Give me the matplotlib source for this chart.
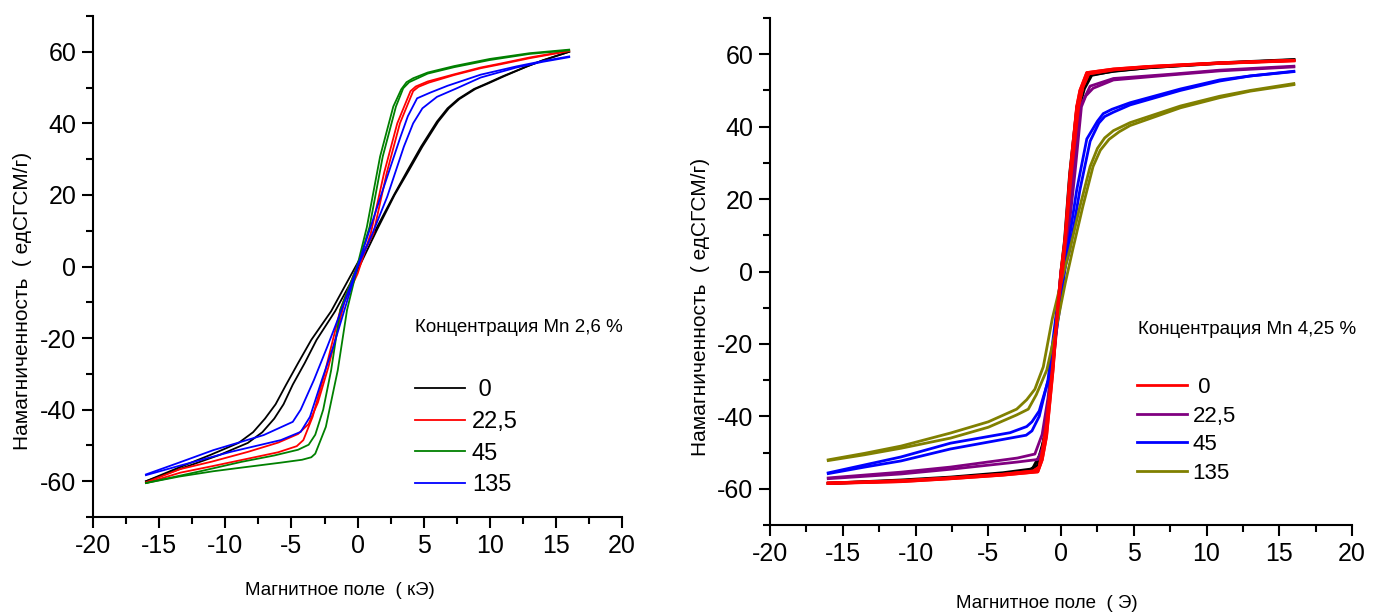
import numpy as np
import matplotlib.pyplot as plt
from matplotlib.ticker import MultipleLocator

plt.rcParams['font.family'] = ['Liberation Sans', 'DejaVu Sans']
plt.rcParams['axes.unicode_minus'] = False

# ---- left panel: Mn 2,6 %, field in kOe ----
labels_left = [' 0', '22,5', '45', '135']
colors_left = ['black', 'red', 'green', 'blue']

# each loop: descending branch (+16 -> -16) and ascending branch (-16 -> +16)
black_desc_x = [16, 14, 12.8, 11, 9.8, 8.8, 7.6, 6.8, 6.0, 4.8, 3.8, 2.75, 1.4, 0, -2, -3.5, -4.5, -5.4, -6.2, -7.0, -7.9, -9.0, -11.1, -13.4, -16]
black_desc_y = [60, 57.6, 55.9, 53.2, 51.2, 49.6, 46.8, 44.2, 40.5, 33.5, 27, 20, 10.5, 1, -12.5, -20.5, -27, -33, -38.5, -42.5, -46.3, -49.3, -52.6, -56, -60]
black_asc_x = [-16, -13, -10.4, -8.3, -7.2, -6.3, -5.6, -4.9, -4.0, -3.1, -1.7, 0, 1.5, 2.8, 3.9, 4.9, 6.1, 6.9, 7.7, 8.9, 9.9, 11.1, 12.8, 14, 16]
black_asc_y = [-60, -56, -52.6, -49.3, -46.3, -42.5, -38.5, -33, -27, -20.5, -12.5, -1, 10.5, 20, 27, 33.5, 40.5, 44.2, 46.8, 49.6, 51.2, 53.2, 55.9, 57.6, 60]

red_desc_x = [16, 13, 10.8, 9.3, 7.3, 5.3, 4.4, 4.0, 3.0, 2.0, 1.0, 0, -1.0, -2.2, -3.0, -3.7, -4.5, -6.0, -8.3, -11, -13.4, -16]
red_desc_y = [60.3, 58.4, 56.7, 55.6, 53.7, 51.7, 50.3, 49, 40, 26.1, 9.3, -2, -10, -28, -38, -44, -46.8, -49.2, -51.8, -54.5, -56.6, -60.3]
red_asc_x = [-16, -13.4, -11, -8.3, -6, -4.6, -4.1, -3.4, -2.5, -1.3, 0, 1.2, 2.2, 3.2, 4.2, 4.6, 5.4, 7.3, 9.3, 10.8, 13, 16]
red_asc_y = [-60.5, -57.6, -55.8, -53.7, -51.9, -50.2, -48.5, -42, -30, -12, 0.5, 9.3, 26.1, 40, 49, 50.2, 51.4, 53.5, 55.4, 56.5, 58.2, 60.2]

green_desc_x = [16, 13, 10, 7.3, 5.3, 4.2, 3.7, 3.3, 2.7, 1.7, 0.7, 0, -1.3, -2.0, -2.6, -3.2, -3.7, -4.5, -6.3, -8.8, -12, -16]
green_desc_y = [60.6, 59.6, 58, 56, 54.2, 52.6, 51.5, 49.5, 44.7, 30.7, 11, 0.5, -12, -29, -40, -47, -49.8, -51.2, -52.8, -54.6, -57.3, -60.5]
green_asc_x = [-16, -13.5, -10.9, -8.8, -5.8, -4.2, -3.5, -3.2, -2.4, -1.5, -0.8, 0, 0.9, 1.9, 2.9, 3.45, 3.9, 5.3, 7.3, 10, 13, 16]
green_asc_y = [-60.5, -58.7, -57.2, -56.2, -54.8, -54, -53.3, -52.3, -44.8, -29, -12.2, 0, 11, 30.7, 44.7, 49.8, 51.5, 53.9, 55.7, 57.7, 59.4, 60.4]

blue_desc_x = [16, 14, 12, 9.3, 6.8, 5.5, 4.5, 3.8, 3.25, 1.74, 0.8, 0, -1.2, -2.3, -3.3, -4.3, -4.9, -7.1, -10.9, -13.5, -16]
blue_desc_y = [58.7, 57.4, 55.9, 53.6, 50.5, 48.6, 47, 42, 36.3, 19.5, 9, 0, -12, -22.5, -31.7, -40, -43.4, -47.1, -51.3, -54.8, -58.1]
blue_asc_x = [-16, -13.4, -9.6, -5.8, -4.3, -3.6, -2.7, -1.8, -0.9, 0, 1.1, 2.24, 3.5, 4.2, 4.9, 6.0, 7.5, 9.3, 12, 14, 16]
blue_asc_y = [-58.3, -55.6, -51.8, -48.5, -46.2, -42, -31.7, -22, -11, 0, 9, 19.5, 33.5, 40, 44.2, 47.4, 49.8, 52.8, 55.6, 57.2, 58.5]

# ---- right panel: Mn 4,25 %, field in Oe ----
labels_right = [' 0', '22,5', '45', '135']
colors_right = ['red', 'purple', 'blue', 'olive']

k_desc_x = [16, 10.9, 6, 3.6, 2.0, 1.4, 1.1, 0.6, 0.25, 0, -0.6, -1.0, -1.35, -1.6, -2.1, -4, -7.6, -11, -16]
k_desc_y = [58.5, 57.6, 56.3, 55.3, 54.3, 50, 45.5, 27, 8.7, 0, -27, -42, -50, -53.5, -54.6, -55.6, -56.8, -57.6, -58.5]
k_asc_x = [-16, -11, -7.6, -4, -2.0, -1.5, -1.1, -0.6, -0.2, 0.1, 0.7, 1.25, 1.6, 2.1, 3.6, 6, 10.9, 16]
k_asc_y = [-58.5, -57.8, -57, -55.9, -54.8, -51, -45.5, -27, -8.7, 0, 27, 45.5, 50.5, 54.2, 55.4, 56.3, 57.5, 58.4]

r_desc_x = [16, 10.9, 6, 3.6, 1.77, 1.3, 1.08, 0.62, 0.27, 0, -0.6, -1.0, -1.3, -1.5, -1.9, -4, -7.6, -11, -16]
r_desc_y = [58.3, 57.6, 56.6, 55.9, 54.9, 50, 45.5, 27.1, 8.7, 0, -27, -42, -50, -54, -55.1, -56, -57, -57.8, -58.4]
r_asc_x = [-16, -11, -7.6, -4, -1.6, -1.3, -1.0, -0.55, -0.2, 0.1, 0.7, 1.2, 1.5, 1.9, 3.6, 6, 10.9, 16]
r_asc_y = [-58.5, -58, -57.2, -56.2, -55.3, -52, -45.5, -27, -8.7, 0, 27, 45.5, 51, 54.6, 55.7, 56.5, 57.5, 58.2]

p_desc_x = [16, 10.9, 7.6, 3.6, 2.0, 1.5, 1.3, 0.85, 0.35, 0, -0.5, -0.9, -1.3, -1.8, -3, -7.6, -11, -16]
p_desc_y = [56.7, 55.6, 54.5, 53.3, 51.2, 47, 45.5, 27, 8.7, 0, -20, -35, -45, -50.4, -51.5, -54, -55.4, -57]
p_asc_x = [-16, -11, -7.6, -3, -1.6, -1.2, -0.8, -0.4, 0.1, 0.45, 0.95, 1.4, 1.7, 2.2, 3.6, 7.6, 10.9, 16]
p_asc_y = [-57.2, -55.9, -54.6, -52.6, -51.9, -48, -35, -20, 0, 8.7, 27, 45.5, 48.5, 50.6, 52.9, 54.3, 55.4, 56.5]

b_desc_x = [16, 13, 10.9, 8.2, 4.74, 3.5, 2.9, 2.5, 1.77, 1.08, 0.39, -0.1, -0.8, -1.5, -2.0, -2.36, -3.5, -7.6, -11, -13.5, -16]
b_desc_y = [55.3, 54, 52.9, 50.4, 46.6, 44.8, 43.6, 41.5, 36.6, 22.6, 4.3, -10.6, -29, -38.5, -41.5, -42.8, -44.5, -47.4, -51.2, -53.4, -55.6]
b_asc_x = [-16, -13.5, -11, -7.6, -3.5, -2.4, -2.0, -1.5, -0.9, -0.3, 0.2, 0.6, 1.3, 2.0, 2.6, 3.0, 3.6, 4.74, 8.2, 10.9, 13, 16]
b_asc_y = [-55.8, -54, -52.3, -49, -46, -45.2, -44, -40, -30, -10.6, 0, 6, 22.6, 36, 41, 42.8, 44, 46, 50, 52.6, 54, 55.2]

o_desc_x = [16, 13, 10.9, 8.2, 4.74, 3.6, 3.0, 2.5, 2.0, 1.3, 0.6, 0, -0.6, -1.22, -1.8, -2.36, -3.05, -5, -7.6, -11, -13.5, -16]
o_desc_y = [51.9, 50, 48.4, 45.7, 41.1, 38.9, 36.9, 34, 29, 18, 6, -3, -13, -26.3, -32.5, -35.4, -38, -41.5, -44.6, -48.2, -50.2, -52]
o_asc_x = [-16, -13.5, -11, -7.6, -5, -3.05, -2.25, -1.7, -0.98, -0.3, 0.3, 0.8, 1.5, 2.2, 2.7, 3.3, 4.0, 4.74, 8.2, 10.9, 13, 16]
o_asc_y = [-52.2, -50.6, -48.8, -46, -43, -39.6, -38, -34, -27.2, -15, -3, 6, 18, 29, 33.5, 36.5, 38.6, 40.3, 45.2, 48, 49.8, 51.6]

left_loops = [(black_desc_x, black_desc_y, black_asc_x, black_asc_y),
              (red_desc_x, red_desc_y, red_asc_x, red_asc_y),
              (green_desc_x, green_desc_y, green_asc_x, green_asc_y),
              (blue_desc_x, blue_desc_y, blue_asc_x, blue_asc_y)]
right_loops = [(r_desc_x, r_desc_y, r_asc_x, r_asc_y),
               (p_desc_x, p_desc_y, p_asc_x, p_asc_y),
               (b_desc_x, b_desc_y, b_asc_x, b_asc_y),
               (o_desc_x, o_desc_y, o_asc_x, o_asc_y)]

fig = plt.figure(figsize=(13.93, 6.15), dpi=100)
ax1 = fig.add_axes([0.0668, 0.1593, 0.3798, 0.8147])
ax2 = fig.add_axes([0.5528, 0.1463, 0.4178, 0.8244])


def style_axes(ax):
    ax.set_xlim(-20, 20)
    ax.set_ylim(-70, 70)
    ax.xaxis.set_major_locator(MultipleLocator(5))
    ax.xaxis.set_minor_locator(MultipleLocator(2.5))
    ax.yaxis.set_minor_locator(MultipleLocator(10))
    ax.set_yticks([-60, -40, -20, 0, 20, 40, 60])
    for s in ['top', 'right']:
        ax.spines[s].set_visible(False)
    for s in ['left', 'bottom']:
        ax.spines[s].set_linewidth(1.5)
    ax.tick_params(which='major', direction='out', length=8, width=1.5, pad=4, labelsize=18)
    ax.tick_params(which='minor', direction='out', length=5, width=1.5)


# left
handles = []
for (dx, dy, ax_, ay), c in zip(left_loops, colors_left):
    h, = ax1.plot(dx, dy, color=c, lw=1.3)
    ax1.plot(ax_, ay, color=c, lw=1.3)
    handles.append(h)
style_axes(ax1)
ax1.text(0.467, -0.146, 'Магнитное поле  ( кЭ)', transform=ax1.transAxes,
         ha='center', va='center', fontsize=13.5)
ax1.text(-0.134, 0.431, 'Намагниченность  ( едСГСМ/г)', transform=ax1.transAxes,
         ha='center', va='center', rotation=90, fontsize=15)
ax1.text(0.609, 0.379, 'Концентрация Mn 2,6 %', transform=ax1.transAxes,
         ha='left', va='center', fontsize=13.5)
ax1.legend(handles, labels_left, loc='upper left', bbox_to_anchor=(0.609, 0.275),
           frameon=False, fontsize=17, handlelength=2.1,
           handletextpad=0.3, labelspacing=0.41, borderaxespad=0, borderpad=0)

# right
ax2.plot(k_desc_x, k_desc_y, color='black', lw=2.2)
ax2.plot(k_asc_x, k_asc_y, color='black', lw=2.2)
handles = []
for (dx, dy, ax_, ay), c in zip(right_loops, colors_right):
    h, = ax2.plot(dx, dy, color=c, lw=2.0)
    ax2.plot(ax_, ay, color=c, lw=2.0)
    handles.append(h)
# red (0) drawn again on top, as in the original
ax2.plot(r_desc_x, r_desc_y, color='red', lw=2.2)
ax2.plot(r_asc_x, r_asc_y, color='red', lw=2.2)
style_axes(ax2)
ax2.text(0.476, -0.154, 'Магнитное поле  ( Э)', transform=ax2.transAxes,
         ha='center', va='center', fontsize=13.5)
ax2.text(-0.12, 0.43, 'Намагниченность  ( едСГСМ/г)', transform=ax2.transAxes,
         ha='center', va='center', rotation=90, fontsize=15)
ax2.text(0.632, 0.385, 'Концентрация Mn 4,25 %', transform=ax2.transAxes,
         ha='left', va='center', fontsize=13.5)
ax2.legend(handles, labels_right, loc='upper left', bbox_to_anchor=(0.631, 0.292),
           frameon=False, fontsize=16, handlelength=2.25,
           handletextpad=0.23, labelspacing=0.34, borderaxespad=0, borderpad=0)

fig.savefig('out.png', dpi=100)
